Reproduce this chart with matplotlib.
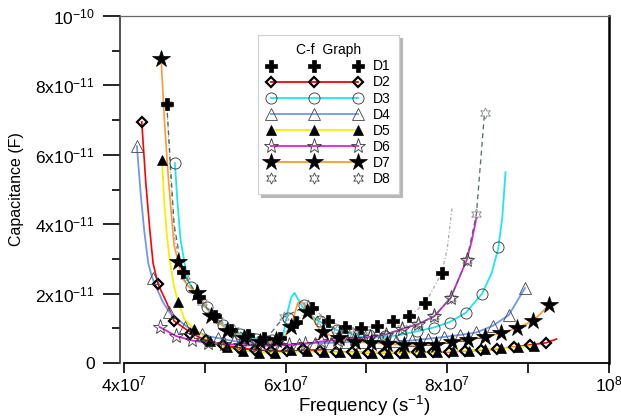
import numpy as np
import matplotlib
matplotlib.use('Agg')
import matplotlib.pyplot as plt
from matplotlib.lines import Line2D

plt.rcParams['font.family'] = ['Liberation Sans', 'DejaVu Sans']
plt.rcParams['mathtext.fontset'] = 'custom'
plt.rcParams['mathtext.rm'] = 'Liberation Sans'
plt.rcParams['mathtext.it'] = 'Liberation Sans'

# frequency in units of 1e7 Hz, capacitance in units of 1e-11 F
# markers
d1_f = [4.53, 4.73, 4.93, 5.13, 5.33, 5.53, 5.73, 5.93, 6.13, 6.33, 6.53, 6.73,
        6.93, 7.13, 7.33, 7.53, 7.73, 7.93]
d1_c = [7.46, 2.62, 1.90, 1.35, 0.95, 0.80, 0.72, 0.72, 1.18, 1.58, 1.21, 1.04,
        1.00, 1.07, 1.21, 1.35, 1.73, 2.59]

d2_f = [4.22, 4.42, 4.62, 4.82, 5.02, 5.22, 5.42, 5.62, 5.82, 6.02, 6.22, 6.42, 6.62,
        6.82, 7.02, 7.22, 7.42, 7.62, 7.82, 8.02, 8.22, 8.42, 8.62, 8.82, 9.02, 9.22]
d2_c = [6.95, 2.28, 1.21, 0.85, 0.65, 0.52, 0.44, 0.38, 0.35, 0.34, 0.40, 0.36, 0.32,
        0.31, 0.30, 0.30, 0.30, 0.31, 0.31, 0.32, 0.35, 0.37, 0.40, 0.46, 0.52, 0.58]

d3_f = [4.63, 4.83, 5.03, 5.23, 5.43, 5.63, 5.83, 6.03, 6.23, 6.43, 6.63, 6.83, 7.03,
        7.23, 7.43, 7.63, 7.83, 8.03, 8.23, 8.43, 8.63]
d3_c = [5.76, 2.19, 1.61, 1.10, 0.85, 0.70, 0.65, 1.30, 1.67, 1.20, 0.95, 0.85, 0.80,
        0.78, 0.82, 0.92, 1.00, 1.15, 1.44, 1.99, 3.35]

d4_f = [4.16, 4.36, 4.56, 4.76, 4.96, 5.16, 5.36, 5.56, 5.76, 5.96, 6.16, 6.36, 6.56,
        6.76, 6.96, 7.16, 7.36, 7.56, 7.76, 7.96, 8.16, 8.36, 8.56, 8.76, 8.96]
d4_c = [6.25, 2.45, 1.47, 1.05, 0.85, 0.72, 0.63, 0.58, 0.55, 0.53, 0.55, 0.57, 0.58,
        0.60, 0.60, 0.61, 0.62, 0.65, 0.70, 0.75, 0.81, 0.88, 1.07, 1.38, 2.16]

d5_f = [4.47, 4.67, 4.87, 5.07, 5.27, 5.47, 5.67, 5.87, 6.07, 6.27, 6.47, 6.67,
        6.87, 7.07, 7.27, 7.47, 7.67, 7.87, 8.07, 8.27, 8.47, 8.67, 8.87, 9.07]
d5_c = [5.85, 1.76, 0.98, 0.62, 0.45, 0.36, 0.30, 0.30, 0.37, 0.35, 0.32, 0.31,
        0.30, 0.30, 0.30, 0.30, 0.31, 0.32, 0.34, 0.36, 0.39, 0.42, 0.46, 0.49]

d6_f = [4.44, 4.64, 4.84, 5.04, 5.24, 5.44, 5.64, 5.84, 6.04, 6.24, 6.44, 6.64,
        6.84, 7.04, 7.24, 7.44, 7.64, 7.84, 8.04, 8.24]
d6_c = [1.04, 0.78, 0.65, 0.58, 0.55, 0.52, 0.50, 0.50, 0.52, 0.56, 0.62, 0.66,
        0.70, 0.75, 0.82, 0.98, 1.12, 1.35, 1.87, 2.97]

d7_f = [4.46, 4.67, 4.90, 5.08, 5.28, 5.48, 5.68, 5.88, 6.07, 6.27, 6.46, 6.66, 6.86,
        7.06, 7.26, 7.46, 7.66, 7.86, 8.06, 8.26, 8.46, 8.66, 8.86, 9.06, 9.26]
d7_c = [8.76, 2.91, 2.02, 1.35, 0.92, 0.72, 0.61, 0.66, 1.04, 1.47, 0.89, 0.72, 0.61,
        0.58, 0.55, 0.52, 0.52, 0.52, 0.61, 0.66, 0.75, 0.86, 1.01, 1.21, 1.67]

d8_f = [4.53, 4.76, 4.96, 5.16, 5.36, 5.56, 5.76, 5.98, 6.28, 6.44, 6.64, 6.84, 7.04,
        7.24, 7.44, 7.64, 7.84, 8.04, 8.24, 8.36, 8.46]
d8_c = [7.46, 2.50, 1.75, 1.25, 0.95, 0.78, 0.70, 1.33, 1.67, 1.20, 0.95, 0.85, 0.80,
        0.82, 1.00, 1.12, 1.35, 1.87, 2.97, 4.30, 7.20]

# curves
d1_lf = [4.53, 4.58, 4.63, 4.68, 4.73, 4.83, 4.93, 5.13, 5.33, 5.53, 5.73, 5.93, 6.03,
         6.13, 6.23, 6.33, 6.43, 6.53, 6.73, 6.93, 7.13, 7.33, 7.53, 7.73, 7.93, 8.00, 8.06]
d1_lc = [7.46, 5.20, 3.60, 2.95, 2.62, 2.20, 1.90, 1.35, 0.95, 0.80, 0.72, 0.75, 0.95,
         1.18, 1.45, 1.58, 1.40, 1.21, 1.04, 1.00, 1.07, 1.21, 1.35, 1.73, 2.59, 3.30, 4.50]

d2_lf = [4.22, 4.27, 4.32, 4.36, 4.42, 4.53, 4.62, 4.78, 4.90, 5.02, 5.22, 5.42, 5.62,
         5.82, 6.02, 6.22, 6.42, 6.62, 6.82, 7.02, 7.22, 7.42, 7.62, 7.82, 8.02, 8.22,
         8.42, 8.62, 8.82, 9.02, 9.22, 9.35]
d2_lc = [6.95, 5.20, 3.83, 2.88, 2.28, 1.73, 1.21, 0.95, 0.78, 0.65, 0.52, 0.44, 0.38,
         0.35, 0.34, 0.36, 0.34, 0.32, 0.31, 0.30, 0.30, 0.30, 0.31, 0.31, 0.32, 0.35,
         0.37, 0.40, 0.46, 0.52, 0.58, 0.69]

d3_lf = [4.63, 4.66, 4.70, 4.75, 4.79, 4.90, 5.04, 5.19, 5.40, 5.60, 5.89, 5.97, 6.02,
         6.07, 6.11, 6.21, 6.38, 6.63, 6.95, 7.15, 7.40, 7.60, 7.83, 8.03, 8.23, 8.43,
         8.55, 8.63, 8.68, 8.72]
d3_lc = [5.76, 4.70, 3.55, 2.88, 2.39, 1.90, 1.53, 1.15, 0.86, 0.72, 0.66, 0.80, 1.44,
         1.90, 2.02, 1.61, 1.24, 0.95, 0.75, 0.74, 0.80, 0.90, 1.02, 1.18, 1.45, 2.00,
         2.60, 3.30, 4.20, 5.50]

d4_lf = [4.16, 4.21, 4.25, 4.30, 4.35, 4.48, 4.56, 4.78, 5.02, 5.16, 5.36, 5.56, 5.76,
         5.96, 6.16, 6.36, 6.56, 6.76, 6.96, 7.16, 7.36, 7.56, 7.76, 7.96, 8.16, 8.36,
         8.56, 8.76, 8.96]
d4_lc = [6.25, 4.80, 3.83, 2.88, 2.45, 1.76, 1.47, 1.04, 0.78, 0.72, 0.63, 0.58, 0.55,
         0.53, 0.55, 0.57, 0.58, 0.60, 0.60, 0.61, 0.62, 0.65, 0.70, 0.75, 0.81, 0.88,
         1.07, 1.38, 2.16]

d5_lf = [4.47, 4.50, 4.53, 4.57, 4.62, 4.67, 4.75, 4.87, 5.07, 5.27, 5.47, 5.67, 5.87,
         6.07, 6.27, 6.47, 6.67, 6.87, 7.07, 7.27, 7.47, 7.67, 7.87, 8.07, 8.27, 8.47,
         8.67, 8.87, 9.07]
d5_lc = [5.85, 4.60, 3.70, 2.90, 2.20, 1.76, 1.25, 0.98, 0.62, 0.45, 0.36, 0.30, 0.30,
         0.33, 0.33, 0.32, 0.31, 0.30, 0.30, 0.30, 0.30, 0.31, 0.32, 0.34, 0.36, 0.39,
         0.42, 0.46, 0.49]

d6_lf = d6_f + [8.30, 8.36]
d6_lc = d6_c + [3.50, 4.18]

d7_lf = [4.46, 4.50, 4.55, 4.59, 4.62, 4.67, 4.72, 4.80, 4.90, 5.08, 5.28, 5.48, 5.68,
         5.90, 6.00, 6.07, 6.15, 6.20, 6.30, 6.42, 6.63, 6.86, 7.06, 7.26, 7.46, 7.66,
         7.86, 8.06, 8.26, 8.46, 8.66, 8.86, 9.06, 9.26]
d7_lc = [8.76, 7.00, 5.30, 4.20, 3.40, 2.91, 2.45, 2.20, 2.02, 1.38, 0.95, 0.72, 0.61,
         0.62, 0.80, 1.10, 1.73, 1.76, 1.44, 0.95, 0.70, 0.61, 0.58, 0.55, 0.52, 0.52,
         0.52, 0.61, 0.66, 0.75, 0.86, 1.01, 1.21, 1.67]

d8_lf = [4.53, 4.62, 4.70] + d8_f[1:]
d8_lc = [7.46, 4.00, 2.90] + d8_c[1:]

F = 1e7
C = 1e-11

fig = plt.figure(figsize=(6.21, 4.18), dpi=100)
ax = fig.add_axes([120/621, 1-363/418, (609-120)/621, (363-16)/418])

curves = [
    (d1_lf, d1_lc, dict(color='#a0a0a0', lw=0.8, ls=(0, (3, 2, 1, 2)))),
    (d2_lf, d2_lc, dict(color='#ff0000', lw=1.2)),
    (d3_lf, d3_lc, dict(color='#1ee6ee', lw=1.3)),
    (d4_lf, d4_lc, dict(color='#6f98ee', lw=1.3)),
    (d5_lf, d5_lc, dict(color='#f5f000', lw=1.3)),
    (d6_lf, d6_lc, dict(color='#e020e0', lw=1.3)),
    (d7_lf, d7_lc, dict(color='#ff9933', lw=1.2)),
    (d8_lf, d8_lc, dict(color='#4e6a6a', lw=0.9, ls=(0, (4, 3)))),
]
for lf, lc, kw in curves:
    ax.plot(np.array(lf)*F, np.array(lc)*C, zorder=2, **kw)

markers = [
    ('D8', d8_f, d8_c, dict(marker=(6, 1, 0), ms=8, mfc='none', mec='#888888', mew=0.6), None),
    ('D1', d1_f, d1_c, dict(marker='P', ms=9, mfc='black', mec='black', mew=0.5), None),
    ('D2', d2_f, d2_c, dict(marker='D', ms=5, mfc='none', mec='black', mew=1.6), '#ff0000'),
    ('D3', d3_f, d3_c, dict(marker='o', ms=8, mfc='none', mec='#333333', mew=0.6), '#1ee6ee'),
    ('D4', d4_f, d4_c, dict(marker='^', ms=8, mfc='none', mec='#444444', mew=0.6), '#6f98ee'),
    ('D5', d5_f, d5_c, dict(marker='^', ms=7, mfc='black', mec='black', mew=0.5), '#f5f000'),
    ('D6', d6_f, d6_c, dict(marker='*', ms=11, mfc='none', mec='#333333', mew=0.6), '#e020e0'),
    ('D7', d7_f, d7_c, dict(marker='*', ms=13, mfc='black', mec='black', mew=0.5), '#ff9933'),
]
handles = {}
for name, mf, mc, kw, lcol in markers:
    ax.plot(np.array(mf)*F, np.array(mc)*C, ls='none', zorder=3, **kw)
    if name == 'D8':
        kw = dict(kw, mec='#444444')
    if lcol is None:
        handles[name] = Line2D([], [], ls='none', label=name, **kw)
    else:
        handles[name] = Line2D([], [], color=lcol, lw=1.3, label=name, **kw)

ax.set_xlim(3.951e7, 1.0e8)
ax.set_ylim(0, 1e-10)

xt = [4e7, 6e7, 8e7, 1e8]
xl = [r'$\mathregular{4x10^{7}}$', r'$\mathregular{6x10^{7}}$',
      r'$\mathregular{8x10^{7}}$', r'$\mathregular{10^{8}}$']
ax.set_xticks(xt, xl)
ax.set_xticks([5e7, 7e7, 9e7], minor=True)
yt = [0, 2e-11, 4e-11, 6e-11, 8e-11, 1e-10]
yl = ['0', r'$\mathregular{2x10^{-11}}$', r'$\mathregular{4x10^{-11}}$',
      r'$\mathregular{6x10^{-11}}$', r'$\mathregular{8x10^{-11}}$', r'$\mathregular{10^{-10}}$']
ax.set_yticks(yt, yl)
ax.set_yticks([1e-11, 3e-11, 5e-11, 7e-11, 9e-11], minor=True)

ax.tick_params(axis='x', which='both', direction='out', length=7, width=1.2,
               labelsize=12.5, pad=1)
ax.tick_params(axis='y', which='major', direction='out', length=12, width=1.2,
               labelsize=12.5, pad=6)
ax.tick_params(axis='y', which='minor', direction='out', length=6, width=1.2)

ax.spines['bottom'].set_bounds(4e7, 1e8)
ax.spines['bottom'].set_linewidth(1.3)
ax.spines['left'].set_linewidth(1.2)
ax.spines['left'].set_color('#333333')
ax.spines['top'].set_linewidth(0.9)
ax.spines['top'].set_color('#666666')
ax.spines['right'].set_linewidth(1.8)

ax.set_xlabel(r'Frequency (s$^{\mathregular{-1}}$)', fontsize=13.5, labelpad=0)
ax.set_ylabel('Capacitance (F)', fontsize=11.5, labelpad=8)

order = ['D1', 'D2', 'D3', 'D4', 'D5', 'D6', 'D7', 'D8']
leg = ax.legend(handles=[handles[k] for k in order], title='C-f  Graph', loc='upper left',
                bbox_to_anchor=(258/621, 1-35/418), bbox_transform=fig.transFigure,
                numpoints=3, handlelength=6.9, handletextpad=0.8, labelspacing=0.15,
                fontsize=10, title_fontsize=10, borderaxespad=0, borderpad=0.6,
                fancybox=False, framealpha=1, edgecolor='#d0d0d0',
                shadow={'color': '#b8b8b8', 'alpha': 1})
leg.get_frame().set_linewidth(0.8)

fig.savefig('out.png', dpi=100)
